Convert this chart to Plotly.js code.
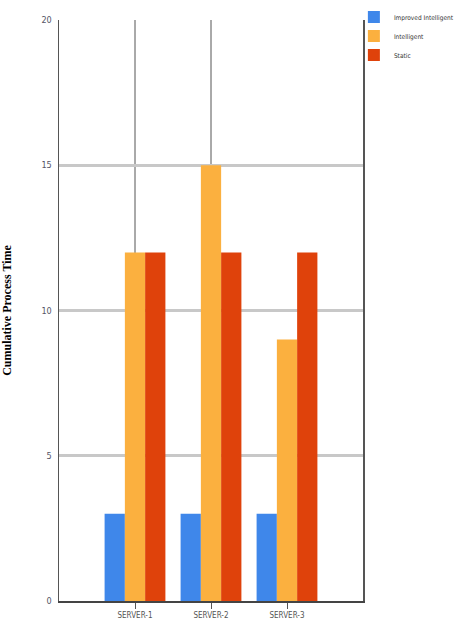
<!DOCTYPE html>
<html>
<head>
<meta charset="utf-8">
<script src="https://cdn.plot.ly/plotly-3.0.1.min.js"></script>
<style>html,body{margin:0;padding:0;background:#fff;}#chart{width:455px;height:625px;}</style>
</head>
<body>
<div id="chart"></div>
<script>
const categories = ["SERVER-1", "SERVER-2", "SERVER-3"];
const seriesNames = ["Improved Intelligent", "Intelligent", "Static"];
const improvedIntelligent = [3, 3, 3];
const intelligent = [12, 15, 9];
const staticVals = [12, 12, 12];
const yTicks = [0, 5, 10, 15, 20];
const colors = ["#3f87ea", "#fbb03f", "#df420b"];

const seriesValues = [improvedIntelligent, intelligent, staticVals];
const data = seriesValues.map((vals, i) => ({
  type: "bar",
  name: seriesNames[i],
  x: categories,
  y: vals,
  marker: {color: colors[i], line: {width: 0}}
}));

const narrow = "DejaVu Sans Condensed, Liberation Sans Narrow, Arial Narrow, sans-serif";

const layout = {
  width: 455, height: 625,
  margin: {l: 59, r: 92, t: 20, b: 24, autoexpand: false},
  paper_bgcolor: "#fff", plot_bgcolor: "#fff",
  barmode: "group", bargap: 0.2, bargroupgap: 0,
  showlegend: true,
  legend: {x: 0.97, y: 1.03, xanchor: "left", yanchor: "top",
    font: {family: narrow, size: 6.5, color: "#333"},
    itemwidth: 30, tracegroupgap: 0, bgcolor: "rgba(0,0,0,0)"},
  xaxis: {
    type: "category", range: [-1, 3],
    showgrid: false, zeroline: false,
    showline: true, linecolor: "#444", linewidth: 1.5,
    ticks: "outside", ticklen: 6, tickcolor: "#555", tickwidth: 1,
    tickfont: {family: narrow, size: 8, color: "#555"},
    fixedrange: true
  },
  yaxis: {
    range: [0, 20], tickvals: yTicks, ticktext: yTicks.map(String),
    showgrid: true, gridcolor: "#c8c8c8", gridwidth: 3,
    zeroline: false,
    showline: true, mirror: true, linecolor: "#555", linewidth: 1.5,
    ticks: "", ticklabelstandoff: 4,
    tickfont: {family: narrow, size: 9, color: "#556"},
    title: {text: "Cumulative Process Time", standoff: 33,
      font: {family: "Liberation Serif, Times New Roman, serif", size: 12, color: "#000", weight: "bold"}},
    automargin: false, fixedrange: true
  },
  shapes: [categories[0], categories[1]].map(c => ({
    type: "line", xref: "x", yref: "paper", x0: c, x1: c, y0: 0, y1: 1,
    line: {color: "#555", width: 1}, layer: "below"
  }))
};

Plotly.newPlot("chart", data, layout, {displayModeBar: false, staticPlot: true});
</script>
</body>
</html>
